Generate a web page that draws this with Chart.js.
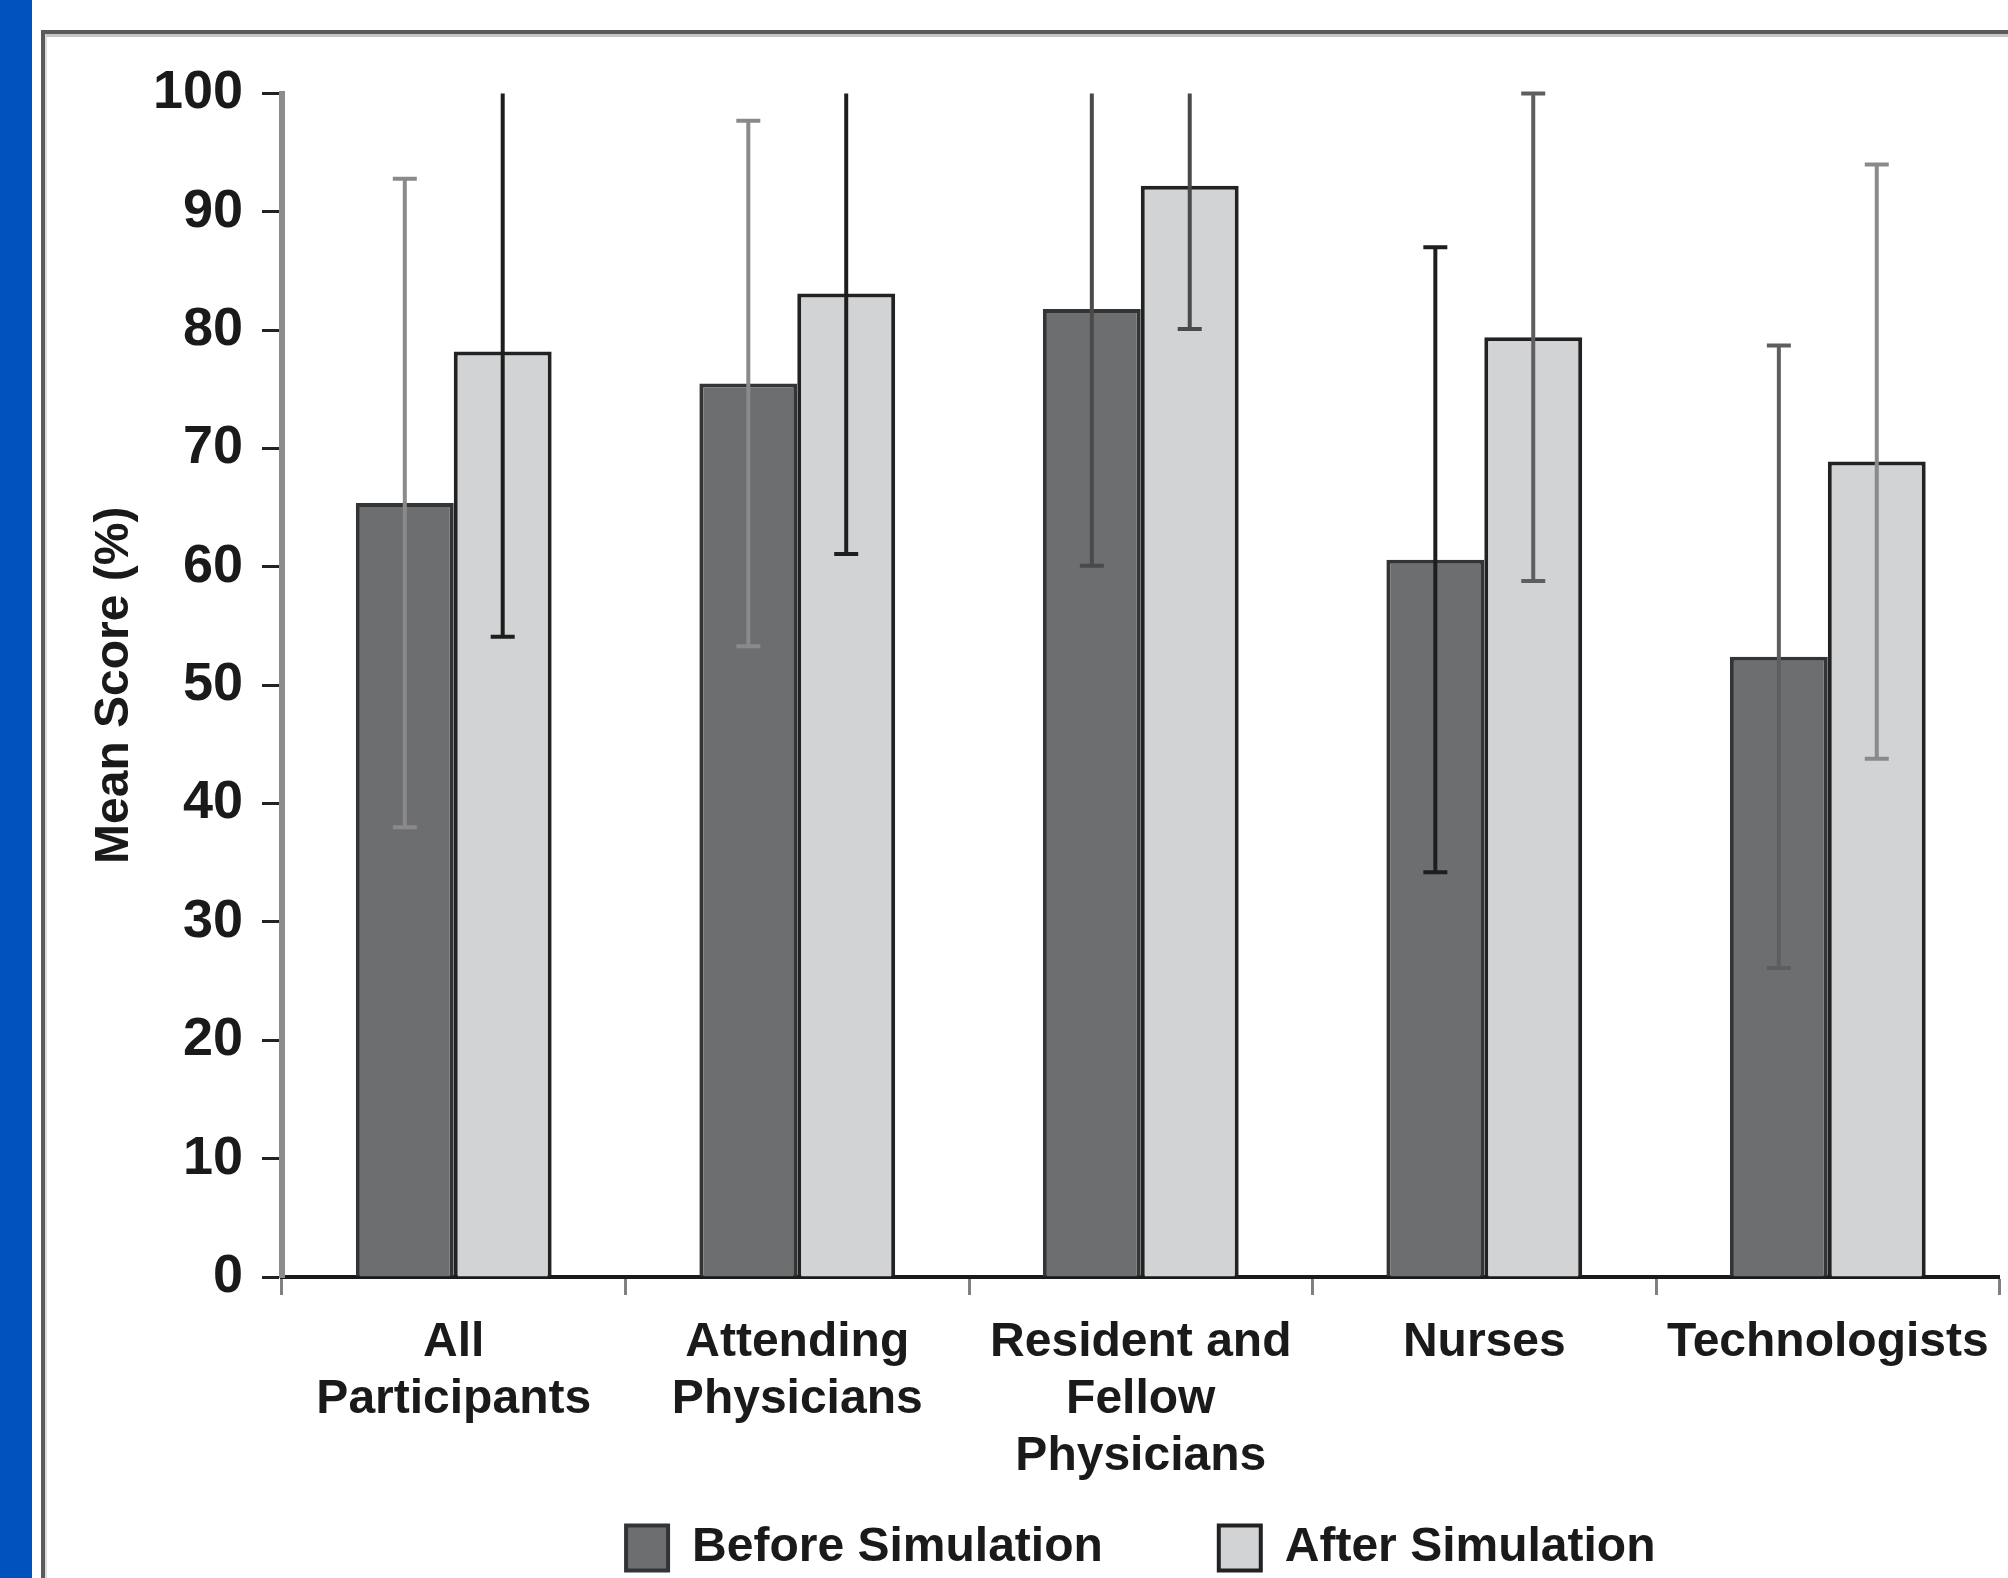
<!DOCTYPE html>
<html><head><meta charset="utf-8">
<script src="https://cdn.jsdelivr.net/npm/chart.js@4.4.1/dist/chart.umd.min.js"></script>
<style>
html,body{margin:0;padding:0;background:#fff;width:2008px;height:1578px;overflow:hidden;}
#blue{position:absolute;left:0;top:0;width:32px;height:1578px;background:#0051be;}
#frame{position:absolute;left:41px;top:30px;width:2100px;height:1700px;border-left:4px solid #5b5b5b;border-top:4px solid #5b5b5b;}
#frame2{position:absolute;left:45px;top:34px;width:2100px;height:1700px;border-top:3px solid #c6c6c6;border-left:2px solid #dcdcdc;}
#c{position:absolute;left:0;top:0;}
</style></head>
<body>
<div id="blue"></div><div id="frame"></div><div id="frame2"></div>
<canvas id="c" width="2008" height="1578"></canvas>
<script>
const categories = [["All", "Participants"], ["Attending", "Physicians"], ["Resident and", "Fellow", "Physicians"], "Nurses", "Technologists"];
const seriesNames = ["Before Simulation", "After Simulation"];
const beforeMeans = [65.4, 75.5, 81.8, 60.6, 52.4];
const afterMeans = [78.2, 83.1, 92.2, 79.4, 68.9];
const beforeSD = [27.4, 22.2, 21.7, 26.4, 26.3];
const afterSD = [24.1, 22.0, 12.1, 20.6, 25.1];
const yTickValues = [0, 10, 20, 30, 40, 50, 60, 70, 80, 90, 100];
const yTitle = "Mean Score (%)";

Chart.defaults.font.family = "'Liberation Sans', Arial, sans-serif";
Chart.defaults.color = '#1a1a1a';

const errorBars = {
  id: 'errorBars',
  afterDatasetsDraw(chart, args, opts) {
    const {ctx, chartArea} = chart;
    const y = chart.scales.y;
    const sds = [beforeSD, afterSD];
    ctx.save();
    ctx.beginPath();
    ctx.rect(chartArea.left, chartArea.top - 4, chartArea.right - chartArea.left, chartArea.bottom - chartArea.top + 4);
    ctx.clip();
    ctx.lineCap = 'butt';
    chart.data.datasets.forEach((ds, i) => {
      const meta = chart.getDatasetMeta(i);
      meta.data.forEach((bar, j) => {
        const m = ds.data[j], sd = sds[i][j];
        const hi = m + sd, lo = m - sd;
        const yHi = y.getPixelForValue(Math.min(hi, y.max));
        const yLo = y.getPixelForValue(lo);
        ctx.strokeStyle = opts.colors[i][j];
        ctx.lineWidth = 4;
        ctx.beginPath();
        ctx.moveTo(bar.x, yHi); ctx.lineTo(bar.x, yLo);
        ctx.moveTo(bar.x - opts.cap, yLo); ctx.lineTo(bar.x + opts.cap, yLo);
        if (hi <= y.max + 0.05) {
          ctx.moveTo(bar.x - opts.cap, yHi); ctx.lineTo(bar.x + opts.cap, yHi);
        }
        ctx.stroke();
      });
    });
    ctx.restore();
  }
};

// let the multi-line category labels draw below the (shortened) x scale box
const unclipXLabels = {
  id: 'unclipXLabels',
  afterLayout(chart) {
    const s = chart.scales.x;
    s.bottom = chart.height;
    s.height = s.bottom - s.top;
  }
};

new Chart(document.getElementById('c'), {
  type: 'bar',
  data: {
    labels: categories,
    datasets: [
      { label: seriesNames[0], data: beforeMeans, backgroundColor: '#6d6e70', borderColor: '#333436', borderWidth: 4, borderSkipped: 'bottom' },
      { label: seriesNames[1], data: afterMeans, backgroundColor: '#d2d3d5', borderColor: '#222222', borderWidth: 4, borderSkipped: 'bottom' }
    ]
  },
  options: {
    responsive: false,
    devicePixelRatio: 1,
    animation: false,
    categoryPercentage: 0.57,
    barPercentage: 1.0,
    layout: { padding: { left: 95.5, top: 93.5, right: 3, bottom: -4 } },
    plugins: {
      tooltip: { enabled: false },
      legend: {
        position: 'bottom',
        fullSize: false,
        labels: {
          boxWidth: 42, boxHeight: 45, padding: 116,
          color: '#1a1a1a',
          font: { size: 48, weight: 'bold' }
        }
      },
      errorBars: {
        cap: 12,
        colors: [
          ['#8a8a8a', '#8a8a8a', '#4a4a4a', '#1e1e1e', '#5e5e5e'],
          ['#1e1e1e', '#1e1e1e', '#4a4a4a', '#5e5e5e', '#8a8a8a']
        ]
      }
    },
    scales: {
      x: {
        z: 1,
        grid: { drawOnChartArea: false, drawTicks: true, tickLength: 18, tickColor: '#808080', tickWidth: 3, offset: true },
        border: { color: '#1a1a1a', width: 4 },
        ticks: { maxRotation: 0, minRotation: 0, autoSkip: false, padding: 19, color: '#1a1a1a', font: { size: 48, weight: 'bold', lineHeight: 1.19 } },
        afterFit: (s) => { s.height = 131; }
      },
      y: {
        min: 0, max: 100,
        afterBuildTicks: (s) => { s.ticks = yTickValues.map(v => ({ value: v })); },
        grid: { drawOnChartArea: false, drawTicks: true, tickLength: 20, tickColor: '#222222', tickWidth: 3 },
        border: { color: '#8c8c8c', width: 6 },
        ticks: { padding: 19, color: '#1a1a1a', font: { size: 54, weight: 'bold' } },
        title: { display: true, text: yTitle, color: '#1a1a1a', padding: 0, font: { size: 48, weight: 'bold', lineHeight: 0.8 } }
      }
    }
  },
  plugins: [errorBars, unclipXLabels]
});
</script>
</body></html>
